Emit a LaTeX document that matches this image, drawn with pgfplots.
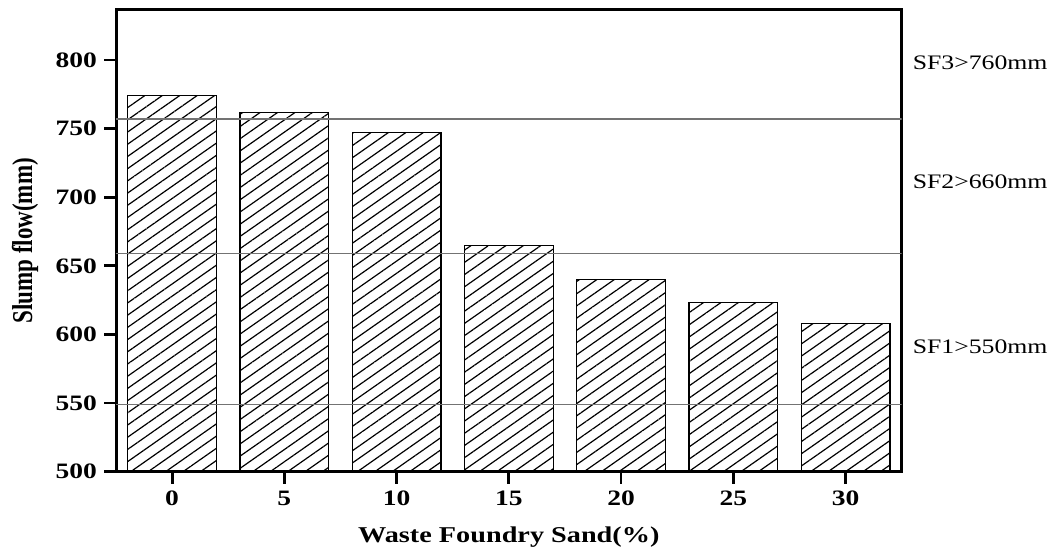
\documentclass[border=0pt]{standalone}
\usepackage{fontspec}
\usepackage{graphicx}
\setmainfont{Liberation Serif}[FakeStretch=1.25]
\newfontfamily\uprightserif{Liberation Serif}
\usepackage{pgfplots}
\pgfplotsset{compat=1.18}
\usetikzlibrary{patterns.meta,calc}

\begin{document}
\begin{tikzpicture}
\useasboundingbox (0,0) rectangle (529.5pt,275.5pt);
\begin{axis}[
  at={(58pt,39.65pt)}, anchor=south west,
  scale only axis, width=392.85pt, height=230.85pt,
  xmin=-0.5, xmax=6.5, ymin=500, ymax=836.4,
  xtick={0,...,6}, xticklabels={0,5,10,15,20,25,30},
  ytick={500,550,...,800},
  tick align=outside, xtick pos=bottom, ytick pos=left,
  major tick length=6pt,
  axis line style={line width=1.5pt},
  every tick/.style={black, line width=1.4pt},
  tick label style={font=\fontsize{11}{13}\selectfont\bfseries},
  /pgf/number format/assume math mode=true,
  xlabel={Waste Foundry Sand(\%)},
  ylabel={\scalebox{1}[1.25]{\uprightserif\bfseries Slump flow(mm)}},
  xlabel style={at={($(rel axis cs:0.5,0)+(0,-32.9pt)$)}, anchor=center, font=\fontsize{11.3}{13}\selectfont\bfseries},
  ylabel style={at={($(rel axis cs:0,0.5)+(-45.5pt,0)$)}, anchor=center, font=\fontsize{11.5}{13}\selectfont},
  clip mode=individual,
]
% slump flow of each mix
\addplot[ybar, bar width=0.79, draw=black, line width=0.6pt,
  pattern={Lines[angle=35,distance=5pt,line width=0.6pt]}]
  coordinates {(0,774) (1,762) (2,747) (3,665) (4,640) (5,623) (6,608)};
% slump-flow class limits
\addplot[black!55, line width=0.6pt] coordinates {(-0.5,757) (6.5,757)};
\addplot[black!55, line width=0.6pt] coordinates {(-0.5,659) (6.5,659)};
\addplot[black!55, line width=0.6pt] coordinates {(-0.5,549) (6.5,549)};
\node[anchor=west, xshift=2pt, font=\fontsize{10.3}{12}\selectfont] at (axis cs:6.5,798) {SF3>760mm};
\node[anchor=west, xshift=2pt, font=\fontsize{10.3}{12}\selectfont] at (axis cs:6.5,711) {SF2>660mm};
\node[anchor=west, xshift=2pt, font=\fontsize{10.3}{12}\selectfont] at (axis cs:6.5,591) {SF1>550mm};
\end{axis}
\end{tikzpicture}
\end{document}
